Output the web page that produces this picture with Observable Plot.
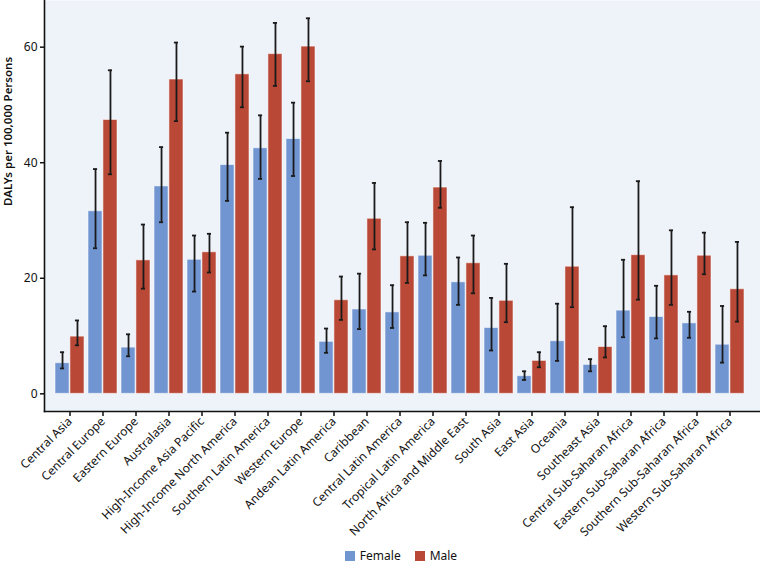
<!DOCTYPE html>
<html>
<head>
<meta charset="utf-8">
<script src="https://cdn.jsdelivr.net/npm/d3@7"></script>
<script src="https://cdn.jsdelivr.net/npm/@observablehq/plot@0.6"></script>
<style>
  body { margin: 0; background: #fff; font-family: "Noto Sans", sans-serif; }
  #chart svg { display: block; }
  #legend { display: flex; justify-content: center; gap: 14px; font-size: 12px; line-height: 14px; color: #111; margin-top: 8px; padding-left: 42px; }
  #legend span.item { display: flex; align-items: center; gap: 5px; }
  #legend span.sw { width: 10px; height: 10px; display: inline-block; }
</style>
</head>
<body>
<div id="chart"></div>
<div id="legend"></div>
<script>
const regions = ["Central Asia","Central Europe","Eastern Europe","Australasia","High-Income Asia Pacific","High-Income North America","Southern Latin America","Western Europe","Andean Latin America","Caribbean","Central Latin America","Tropical Latin America","North Africa and Middle East","South Asia","East Asia","Oceania","Southeast Asia","Central Sub-Saharan Africa","Eastern Sub-Saharan Africa","Southern Sub-Saharan Africa","Western Sub-Saharan Africa"];
const femaleValue = [5.3,31.6,8.0,35.9,23.2,39.6,42.5,44.1,9.0,14.6,14.1,23.9,19.3,11.4,3.05,9.1,5.0,14.4,13.3,12.2,8.5];
const femaleLower = [4.4,25.2,6.5,29.7,17.7,33.4,37.2,37.7,7.1,11.2,11.4,20.5,15.4,7.5,2.4,5.7,3.9,9.8,9.6,9.7,5.4];
const femaleUpper = [7.2,38.9,10.3,42.7,27.4,45.2,48.2,50.4,11.3,20.8,18.8,29.6,23.6,16.6,3.9,15.6,6.0,23.2,18.7,14.2,15.2];
const maleValue = [9.9,47.4,23.1,54.4,24.5,55.3,58.8,60.1,16.2,30.3,23.8,35.7,22.6,16.1,5.7,22.0,8.1,24.0,20.5,23.9,18.1];
const maleLower = [8.4,38.0,18.2,47.2,21.0,49.6,53.3,54.1,12.8,25.0,19.2,32.2,17.4,12.4,4.6,15.0,6.3,16.3,15.4,20.7,12.5];
const maleUpper = [12.7,56.0,29.3,60.8,27.7,60.1,64.2,65.0,20.3,36.5,29.7,40.3,27.4,22.5,7.2,32.3,11.7,36.8,28.3,27.9,26.3];
const yTicks = [0, 20, 40, 60];
const yDomain = [-3.06, 68.08];
const seriesNames = ["Female", "Male"];
const seriesColors = ["#7095d1", "#b94836"];

const female = regions.map((r, i) => ({region: r, value: femaleValue[i], lo: femaleLower[i], hi: femaleUpper[i]}));
const male = regions.map((r, i) => ({region: r, value: maleValue[i], lo: maleLower[i], hi: maleUpper[i]}));

const W = 760, H = 541, mL = 44, mB = 130;
const xRange = [43.5, 755.5];
const pInner = 0.11, pOuter = 0.16;
const step = (xRange[1] - xRange[0]) / (regions.length - pInner + 2 * pOuter);
const bw = step * (1 - pInner);
const half = bw / 2;
const capW = 5;
const capInset = (half - capW) / 2;
const errColor = "#1a1a1a";

const chart = Plot.plot({
  width: W, height: H,
  marginLeft: mL, marginRight: 0, marginTop: 0, marginBottom: mB,
  style: {fontFamily: "Noto Sans", fontSize: "12px", background: "white", color: "#111"},
  x: {domain: regions, range: xRange, paddingInner: pInner, paddingOuter: pOuter},
  y: {domain: yDomain},
  marks: [
    Plot.frame({fill: "#eef2f9", stroke: null}),
    Plot.barY(female, {x: "region", y: "value", fill: seriesColors[0], insetRight: half, stroke: "white", strokeOpacity: 0.55, strokeWidth: 1}),
    Plot.barY(male, {x: "region", y: "value", fill: seriesColors[1], insetLeft: half, stroke: "white", strokeOpacity: 0.55, strokeWidth: 1}),
    Plot.ruleX(female, {x: "region", y1: "lo", y2: "hi", dx: -half / 2, stroke: errColor, strokeWidth: 1.8}),
    Plot.ruleX(male, {x: "region", y1: "lo", y2: "hi", dx: half / 2, stroke: errColor, strokeWidth: 1.8}),
    Plot.tickY(female, {x: "region", y: "lo", dx: -half / 2, insetLeft: capInset + half / 2, insetRight: capInset + half / 2, stroke: errColor, strokeWidth: 1.8}),
    Plot.tickY(female, {x: "region", y: "hi", dx: -half / 2, insetLeft: capInset + half / 2, insetRight: capInset + half / 2, stroke: errColor, strokeWidth: 1.8}),
    Plot.tickY(male, {x: "region", y: "lo", dx: half / 2, insetLeft: capInset + half / 2, insetRight: capInset + half / 2, stroke: errColor, strokeWidth: 1.8}),
    Plot.tickY(male, {x: "region", y: "hi", dx: half / 2, insetLeft: capInset + half / 2, insetRight: capInset + half / 2, stroke: errColor, strokeWidth: 1.8}),
    Plot.axisY({ticks: yTicks, tickSize: 4, tickPadding: 3, label: null, strokeWidth: 1.5, fontSize: 12}),
    Plot.axisX({tickSize: 5, tickPadding: 3, tickRotate: -45, label: null, strokeWidth: 1.5, fontSize: 12}),
    Plot.frame({anchor: "left", stroke: "#111", strokeWidth: 1.6}),
    Plot.frame({anchor: "bottom", stroke: "#111", strokeWidth: 1.6}),
    Plot.text(["DALYs per 100,000 Persons"], {frameAnchor: "left", rotate: -90, dx: -36, fontWeight: 600, fontSize: 11.5, fill: "#111"})
  ]
});
document.getElementById("chart").append(chart);

const legend = d3.select("#legend");
seriesNames.forEach((n, i) => {
  const item = legend.append("span").attr("class", "item");
  item.append("span").attr("class", "sw").style("background", seriesColors[i]);
  item.append("span").text(n);
});
</script>
</body>
</html>
